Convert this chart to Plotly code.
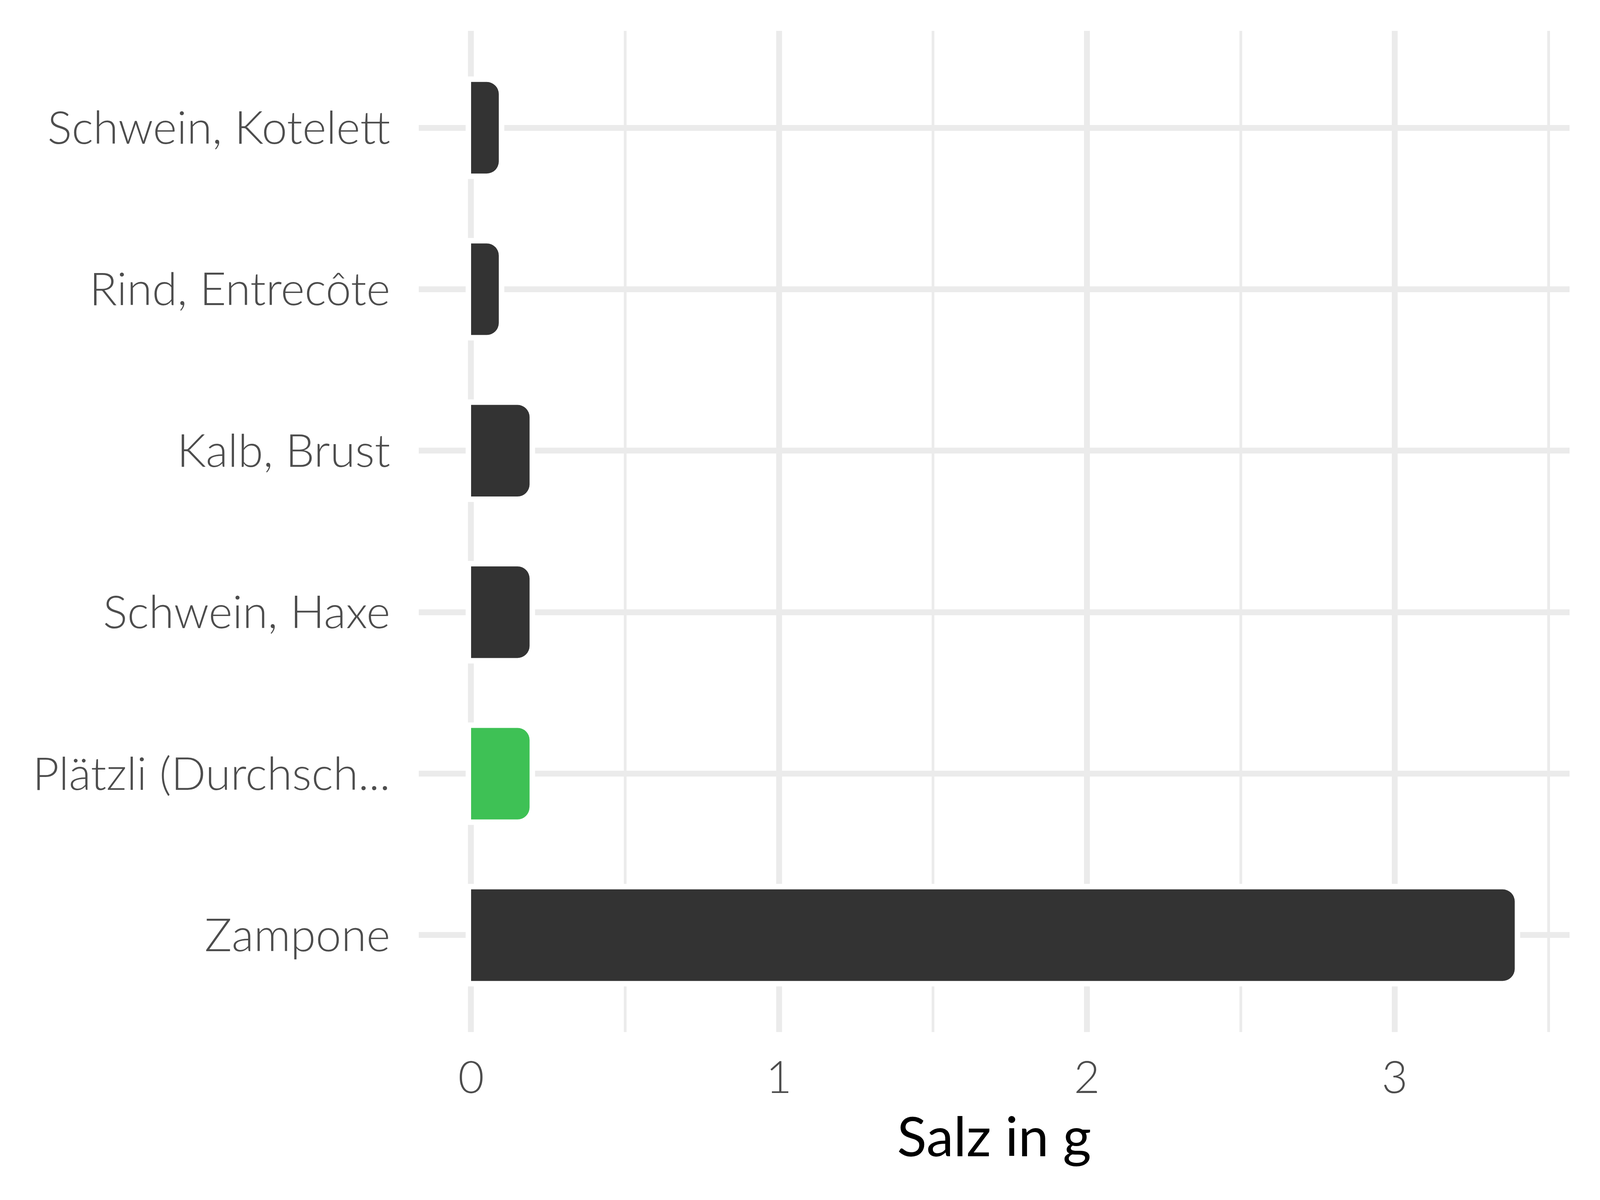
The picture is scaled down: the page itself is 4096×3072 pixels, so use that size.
import plotly.graph_objects as go

# Data (top-to-bottom order as shown)
categories = ["Schwein, Kotelett", "Rind, Entrecôte", "Kalb, Brust",
              "Schwein, Haxe", "Plätzli (Durchsch...", "Zampone"]
salz_g = [0.09, 0.09, 0.19, 0.19, 0.19, 3.39]
highlight = [False, False, False, False, True, False]
x_ticks = [0, 1, 2, 3]
x_tick_labels = ["0", "1", "2", "3"]
x_minor_ticks = [0.5, 1.5, 2.5, 3.5]
x_title = "Salz in g"

DARK = "#333333"
GREEN = "#3EC155"
GRID = "#EBEBEB"
bar_colors = [GREEN if h else DARK for h in highlight]

fig = go.Figure()
# white halo behind bars
fig.add_trace(go.Bar(
    y=categories, x=salz_g, orientation="h", width=0.567,
    marker=dict(color="white", line=dict(color="white", width=28), cornerradius=31),
    hoverinfo="skip", showlegend=False,
))
fig.add_trace(go.Bar(
    y=categories, x=salz_g, orientation="h", width=0.567,
    marker=dict(color=bar_colors, line=dict(width=0), cornerradius=31),
    showlegend=False,
))

fig.update_layout(
    width=4096, height=3072,
    margin=dict(l=1064, r=86, t=71, b=438),
    barmode="overlay",
    plot_bgcolor="white", paper_bgcolor="white",
    font=dict(family="Lato", color="#4D4D4D"),
)
fig.update_xaxes(
    range=[-0.17, 3.568],
    tickmode="array", tickvals=x_ticks, ticktext=x_tick_labels,
    showgrid=True, gridcolor=GRID, gridwidth=14.5,
    zeroline=False, showline=False, ticks="",
    tickfont=dict(size=115, family="Lato", weight=300, color="#4D4D4D"),
    ticklabelstandoff=40,
    minor=dict(tickmode="array", tickvals=x_minor_ticks, showgrid=True,
               gridcolor=GRID, gridwidth=7, ticks=""),
    title=dict(text=x_title, font=dict(size=140, family="Lato", color="black"),
               standoff=32),
)
fig.update_yaxes(
    categoryorder="array", categoryarray=categories,
    range=[5.6, -0.6],
    showgrid=True, gridcolor=GRID, gridwidth=14.5,
    zeroline=False, showline=False, ticks="",
    tickfont=dict(size=117, family="Lato", weight=300, color="#4D4D4D"),
    ticklabelstandoff=72,
)

fig.write_html("out.html")
